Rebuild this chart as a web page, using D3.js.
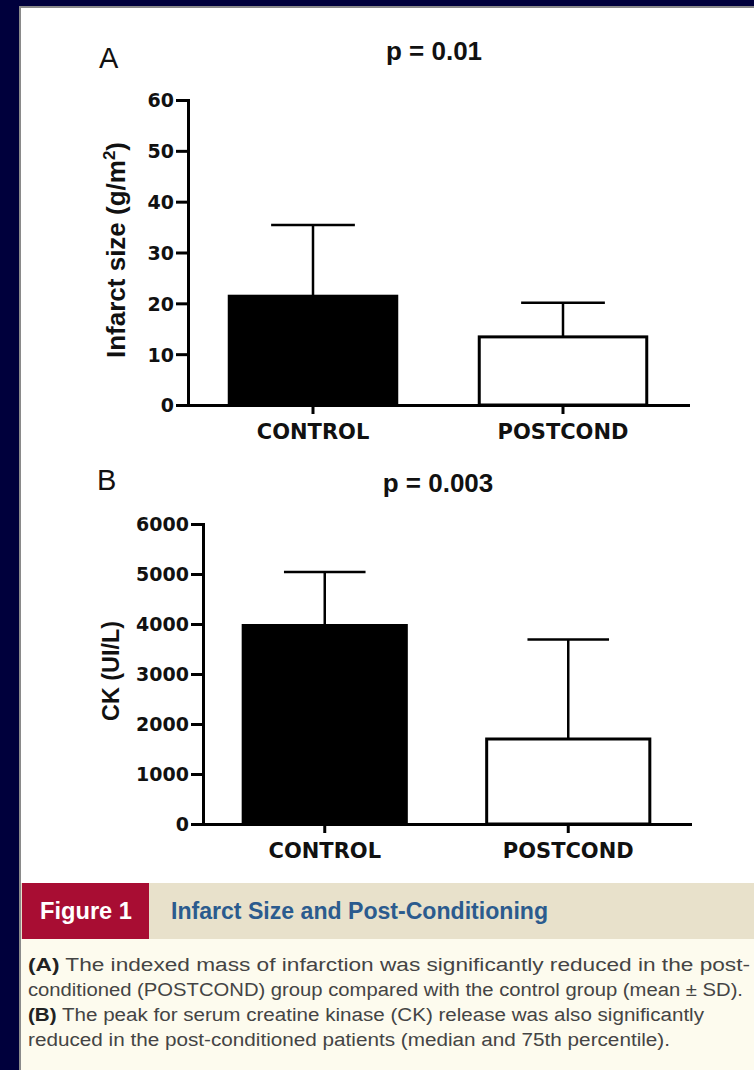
<!DOCTYPE html>
<html>
<head>
<meta charset="utf-8">
<script src="https://cdn.jsdelivr.net/npm/d3@7"></script>
<style>
  body { margin: 0; background: #00003c; }
  svg { display: block; }
</style>
</head>
<body>
<div id="fig"></div>
<script>
// data
var groups = ["CONTROL", "POSTCOND"];
var infarctMean = [21.4, 13.4];
var infarctSD = [35.4, 20.1];     // top of the error bar
var ckMedian = [3970, 1700];
var ckP75 = [5040, 3690];          // top of the error bar
var infarctTicks = [0, 10, 20, 30, 40, 50, 60];
var ckTicks = [0, 1000, 2000, 3000, 4000, 5000, 6000];
var barFill = ["#000", "#fff"];

var captionLines = [
  [["(A)", true], [" The indexed mass of infarction was significantly reduced in the post-", false]],
  [["conditioned (POSTCOND) group compared with the control group (mean \u00B1 SD).", false]],
  [["(B)", true], [" The peak for serum creatine kinase (CK) release was also significantly", false]],
  [["reduced in the post-conditioned patients (median and 75th percentile).", false]]
];
var captionWidths = [722, 715, 676, 642];

var W = 754, H = 1070;
var svg = d3.select("#fig").append("svg")
    .attr("width", W)
    .attr("height", H);

// frame
svg.append("rect").attr("width", W).attr("height", H).attr("fill", "#00003c");
svg.append("rect").attr("x", 19).attr("y", 6).attr("width", W - 19).attr("height", H - 6).attr("fill", "#8a8a8a");
svg.append("rect").attr("x", 21).attr("y", 8).attr("width", W - 21).attr("height", H - 8).attr("fill", "#fff");

var tickFont = "'DejaVu Sans', sans-serif";
var titleFont = "'Liberation Sans', Arial, sans-serif";

function panel(opt) {
  var y = d3.scaleLinear().domain([0, opt.max]).range([opt.y0, opt.y1]);
  var x = d3.scaleBand().domain(groups).range([opt.x0, opt.x1])
    .paddingInner(0.33).paddingOuter(0.165);

  var g = svg.append("g");

  // bars
  g.selectAll(".bar")
    .data(groups)
    .enter()
    .append("rect")
      .attr("x", function(d) { return x(d); })
      .attr("y", function(d, i) { return y(opt.vals[i]); })
      .attr("width", x.bandwidth())
      .attr("height", function(d, i) { return y(0) - y(opt.vals[i]); })
      .attr("fill", function(d, i) { return barFill[i]; })
      .attr("stroke", "#000")
      .attr("stroke-width", 3);

  // error bars (upper only)
  g.selectAll(".err")
    .data(groups)
    .enter()
    .append("line")
      .attr("x1", function(d) { return x(d) + x.bandwidth() / 2; })
      .attr("x2", function(d) { return x(d) + x.bandwidth() / 2; })
      .attr("y1", function(d, i) { return y(opt.vals[i]); })
      .attr("y2", function(d, i) { return y(opt.errs[i]); })
      .attr("stroke", "#000")
      .attr("stroke-width", 2.5);
  g.selectAll(".cap")
    .data(groups)
    .enter()
    .append("line")
      .attr("x1", function(d) { return x(d) + x.bandwidth() * 0.25; })
      .attr("x2", function(d) { return x(d) + x.bandwidth() * 0.75; })
      .attr("y1", function(d, i) { return y(opt.errs[i]); })
      .attr("y2", function(d, i) { return y(opt.errs[i]); })
      .attr("stroke", "#000")
      .attr("stroke-width", 2.5);

  // axes
  var ya = g.append("g")
    .attr("transform", "translate(" + opt.x0 + ",0)")
    .call(d3.axisLeft(y).tickValues(opt.ticks).tickFormat(d3.format("d"))
      .tickSize(12).tickSizeOuter(0).tickPadding(2));
  var xa = g.append("g")
    .attr("transform", "translate(0," + opt.y0 + ")")
    .call(d3.axisBottom(x).tickSize(9).tickSizeOuter(0).tickPadding(8));

  [ya, xa].forEach(function(a) {
    a.select(".domain").attr("stroke-width", 3).attr("stroke-linecap", "square");
    a.selectAll(".tick line").attr("stroke-width", 3);
  });
  ya.selectAll("text")
    .attr("font-family", tickFont).attr("font-weight", "bold")
    .attr("font-size", 19).attr("fill", "#111").attr("dy", "0.36em");
  xa.selectAll("text")
    .attr("font-family", tickFont).attr("font-weight", "bold")
    .attr("font-size", 21).attr("fill", "#111").attr("dy", "0.8em");

  // y title
  var t = g.append("text")
    .attr("transform", "translate(" + opt.tx + "," + opt.ty + ") rotate(-90)")
    .attr("text-anchor", "middle")
    .attr("font-family", titleFont).attr("font-weight", "bold")
    .attr("font-size", opt.tsize).attr("fill", "#111")
    .attr("textLength", opt.tlen).attr("lengthAdjust", "spacingAndGlyphs");
  t.append("tspan").text(opt.title);
  if (opt.sup) {
    t.append("tspan").attr("font-size", opt.tsize * 0.65).attr("dy", -opt.tsize * 0.4).text(opt.sup);
    t.append("tspan").attr("dy", opt.tsize * 0.4).text(")");
  }

  // panel letter and p value
  g.append("text").attr("x", opt.lx).attr("y", opt.ly)
    .attr("font-family", titleFont).attr("font-size", 29).attr("fill", "#111")
    .text(opt.letter);
  g.append("text").attr("x", opt.px).attr("y", opt.py)
    .attr("text-anchor", "middle")
    .attr("font-family", titleFont).attr("font-weight", "bold")
    .attr("font-size", 26).attr("fill", "#111")
    .text(opt.p);
}

panel({
  max: 60, y0: 405, y1: 100, x0: 188, x1: 688,
  vals: infarctMean, errs: infarctSD, ticks: infarctTicks,
  title: "Infarct size (g/m", sup: "2", tx: 125, ty: 250, tsize: 25, tlen: 216,
  letter: "A", lx: 99, ly: 68, p: "p = 0.01", px: 434, py: 60
});
panel({
  max: 6000, y0: 824, y1: 524, x0: 203, x1: 690,
  vals: ckMedian, errs: ckP75, ticks: ckTicks,
  title: "CK (UI/L)", sup: null, tx: 119, ty: 671, tsize: 24, tlen: 100,
  letter: "B", lx: 97, ly: 490, p: "p = 0.003", px: 438, py: 492
});

// caption block
var capFont = "'Liberation Sans Narrow', 'Liberation Sans', Arial, sans-serif";
svg.append("rect").attr("x", 21).attr("y", 939).attr("width", W - 21).attr("height", H - 939).attr("fill", "#fdfbee");
svg.append("rect").attr("x", 21).attr("y", 883).attr("width", W - 21).attr("height", 56).attr("fill", "#e8e1cb");
svg.append("rect").attr("x", 22).attr("y", 883).attr("width", 127).attr("height", 56).attr("fill", "#a80d33");
svg.append("text").attr("x", 40).attr("y", 919)
  .attr("font-family", capFont).attr("font-weight", "bold").attr("font-size", 23)
  .attr("fill", "#fff").attr("textLength", 92).attr("lengthAdjust", "spacingAndGlyphs")
  .text("Figure 1");
svg.append("text").attr("x", 171).attr("y", 919)
  .attr("font-family", capFont).attr("font-weight", "bold").attr("font-size", 23)
  .attr("fill", "#2b5b8e").attr("textLength", 377).attr("lengthAdjust", "spacingAndGlyphs")
  .text("Infarct Size and Post-Conditioning");

captionLines.forEach(function(line, i) {
  var t = svg.append("text")
    .attr("x", 28).attr("y", 971 + i * 25)
    .attr("font-family", capFont).attr("font-size", 18).attr("fill", "#444")
    .attr("textLength", captionWidths[i]).attr("lengthAdjust", "spacingAndGlyphs");
  line.forEach(function(part) {
    t.append("tspan")
      .attr("font-weight", part[1] ? "bold" : "normal")
      .attr("fill", part[1] ? "#222" : "#444")
      .text(part[0]);
  });
});
</script>
</body>
</html>
